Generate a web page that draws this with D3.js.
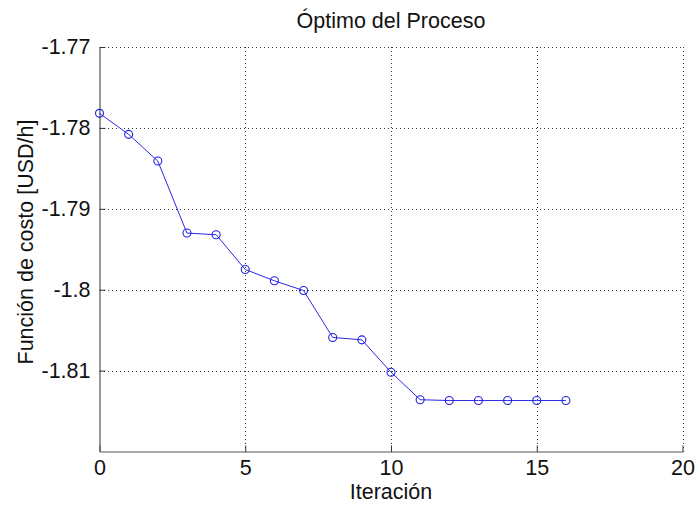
<!DOCTYPE html>
<html>
<head>
<meta charset="utf-8">
<script src="https://cdn.jsdelivr.net/npm/d3@7"></script>
<style>
  html, body { margin: 0; padding: 0; background: #fff; }
  svg { display: block; font-family: "Liberation Sans", Arial, sans-serif; }
</style>
</head>
<body>
<svg id="chart" width="696" height="506"></svg>
<script>
// Cost-function value at each optimisation iteration
const iterations = [0, 1, 2, 3, 4, 5, 6, 7, 8, 9, 10, 11, 12, 13, 14, 15, 16];
const costValues = [
  -1.7782, -1.7808, -1.7841, -1.7930, -1.7932, -1.7975, -1.7989, -1.8001,
  -1.8059, -1.8062, -1.8102, -1.8136, -1.8137, -1.8137, -1.8137, -1.8137, -1.8137
];
const xTicks = [0, 5, 10, 15, 20];
const yTicks = [-1.77, -1.78, -1.79, -1.8, -1.81];
const yTickLabels = ["-1.77", "-1.78", "-1.79", "-1.8", "-1.81"];

const svg = d3.select("#chart");
const plot = { left: 99.5, right: 682.5, top: 47, bottom: 451.5 };
const fontSize = "21.5px";

const x = d3.scaleLinear().domain([0, 20]).range([plot.left, plot.right]);
const y = d3.scaleLinear().domain([-1.82, -1.77]).range([plot.bottom, plot.top]);

// Dotted grid (also closes the box on top and right)
const grid = svg.append("g").attr("stroke", "#3a3a3a").attr("stroke-width", 1)
  .attr("stroke-dasharray", "1,3").attr("shape-rendering", "crispEdges");
xTicks.filter(t => t > 0).forEach(t => {
  grid.append("line").attr("x1", Math.round(x(t)) + 0.5).attr("x2", Math.round(x(t)) + 0.5)
    .attr("y1", plot.top).attr("y2", plot.bottom);
});
yTicks.forEach(t => {
  grid.append("line").attr("y1", Math.round(y(t)) + 0.5).attr("y2", Math.round(y(t)) + 0.5)
    .attr("x1", plot.left).attr("x2", plot.right);
});

// Axes with inward ticks
const xAxis = d3.axisBottom(x).tickValues(xTicks).tickSizeInner(-6).tickSizeOuter(0)
  .tickPadding(12).tickFormat(d3.format("d"));
const yAxis = d3.axisLeft(y).tickValues(yTicks).tickSizeInner(-6).tickSizeOuter(0)
  .tickPadding(12).tickFormat((d, i) => yTickLabels[i]);

const gx = svg.append("g").attr("transform", `translate(0,${plot.bottom})`).call(xAxis);
const gy = svg.append("g").attr("transform", `translate(${plot.left},0)`).call(yAxis);
[gx, gy].forEach(g => {
  g.select(".domain").attr("stroke", "#555").attr("stroke-width", 1.2);
  g.selectAll(".tick line").attr("stroke", "#333");
  g.selectAll(".tick text").attr("fill", "#111")
    .style("font-size", fontSize).style("font-family", "'Liberation Sans', Arial, sans-serif");
});
// x tick labels: baseline placed just under the axis
gx.selectAll(".tick text").attr("dy", null).attr("y", 23.5);
gy.selectAll(".tick text").attr("x", -9);

// Series line and circle markers
const pts = iterations.map((it, i) => [it, costValues[i]]);
svg.append("path").datum(pts)
  .attr("fill", "none").attr("stroke", "#2a2ae6").attr("stroke-width", 1)
  .attr("d", d3.line().x(d => x(d[0])).y(d => y(d[1])));
svg.append("g").selectAll("circle").data(pts).join("circle")
  .attr("cx", d => x(d[0])).attr("cy", d => y(d[1])).attr("r", 4)
  .attr("fill", "none").attr("stroke", "#2020e0").attr("stroke-width", 1.1);

// Titles
svg.append("text").attr("x", (plot.left + plot.right) / 2).attr("y", 28)
  .attr("text-anchor", "middle").style("font-size", fontSize).attr("fill", "#111")
  .text("Óptimo del Proceso");
svg.append("text").attr("x", (plot.left + plot.right) / 2).attr("y", 499)
  .attr("text-anchor", "middle").style("font-size", fontSize).attr("fill", "#111")
  .text("Iteración");
svg.append("text").attr("transform", `translate(33,${242}) rotate(-90)`)
  .attr("text-anchor", "middle").style("font-size", fontSize).attr("fill", "#111")
  .text("Función de costo [USD/h]");
</script>
</body>
</html>
